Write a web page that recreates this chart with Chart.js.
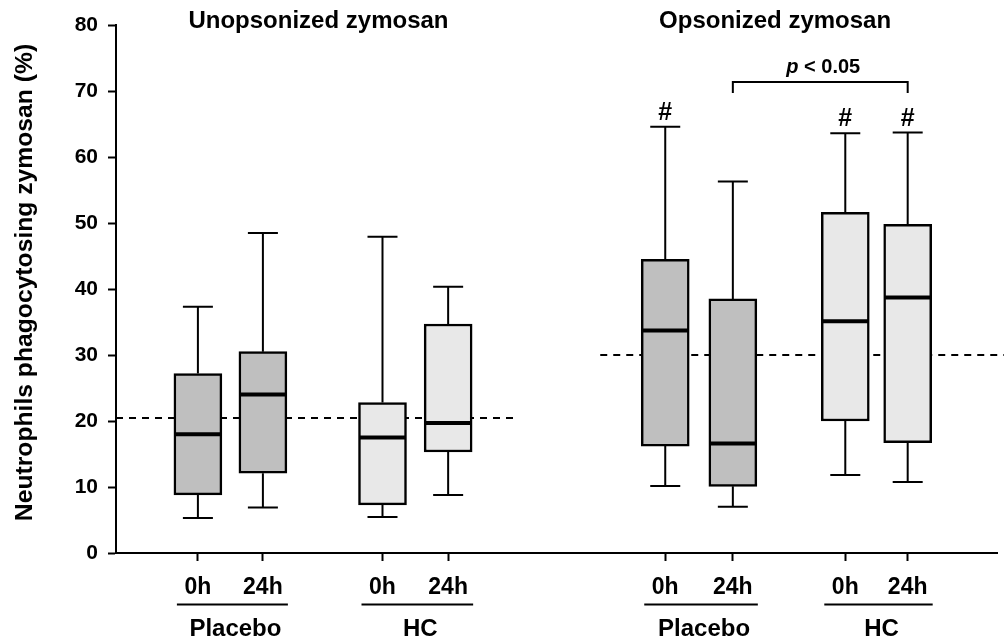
<!DOCTYPE html>
<html>
<head>
<meta charset="utf-8">
<title>Neutrophil phagocytosis of zymosan</title>
<script src="https://cdn.jsdelivr.net/npm/chart.js@4/dist/chart.umd.min.js"></script>
<style>
  html, body { margin: 0; padding: 0; background: #ffffff; }
  #wrap { width: 1004px; height: 641px; position: relative; }
</style>
</head>
<body>
<div id="wrap"><canvas id="chart" width="1004" height="641"></canvas></div>
<script>
// ---- data -------------------------------------------------------------
const panelTitles  = ['Unopsonized zymosan', 'Opsonized zymosan'];
const groupLabels  = ['Placebo', 'HC', 'Placebo', 'HC'];
const timeLabels   = ['0h', '24h', '0h', '24h', '0h', '24h', '0h', '24h'];
const whiskerLow   = [5.3, 6.9, 5.45, 8.8, 10.15, 7.0, 11.8, 10.75];
const quartile1    = [8.8, 12.1, 7.3, 15.3, 16.2, 10.1, 20.0, 16.7];
const medians      = [18.0, 24.0, 17.5, 19.7, 33.7, 16.6, 35.1, 38.7];
const quartile3    = [27.2, 30.5, 22.8, 34.7, 44.5, 38.5, 51.6, 49.8];
const whiskerHigh  = [37.3, 48.5, 47.9, 40.35, 64.6, 56.3, 63.6, 63.7];
const baselineLevels = [20.5, 30];               // dashed reference level per panel
const hashMarked   = [false, false, false, false, true, false, true, true];
const comparison   = { from: 5, to: 7, label: '< 0.05' };
const yTickValues  = [0, 10, 20, 30, 40, 50, 60, 70, 80];
const yAxisTitle   = 'Neutrophils phagocytosing zymosan (%)';

// ---- layout (x in box-pitch units) ------------------------------------
const X_MAX = 13.554;
const SLOT_X = [1.26, 2.26, 4.10, 5.11, 8.45, 9.49, 11.22, 12.18];
const PANEL_TITLE_X = [3.115, 10.14];
const REF_SPAN = [[0, 6.17], [7.45, 13.66]];
const BRACKET_Y = 71.3, BRACKET_DROP = 1.6;

const FONT = '"Liberation Sans", Arial, Helvetica, sans-serif';
const FILL_PLACEBO = '#bfbfbf';
const FILL_HC = '#e8e8e8';
const boxFills = SLOT_X.map((_, i) => (Math.floor(i / 2) % 2 === 0 ? FILL_PLACEBO : FILL_HC));

// whiskers, medians, reference lines and labels drawn on the library's scales
const boxDecorations = {
  id: 'boxDecorations',
  beforeDatasetsDraw(chart) {
    const { ctx, scales: { x, y } } = chart;
    ctx.save();
    ctx.setLineDash([7, 6]);
    ctx.lineWidth = 2;
    ctx.strokeStyle = '#000';
    baselineLevels.forEach((v, i) => {
      const py = Math.round(y.getPixelForValue(v));
      ctx.beginPath();
      ctx.moveTo(x.getPixelForValue(REF_SPAN[i][0]), py);
      ctx.lineTo(x.getPixelForValue(REF_SPAN[i][1]), py);
      ctx.stroke();
    });
    ctx.restore();
  },
  afterDatasetsDraw(chart) {
    const { ctx, scales: { x, y }, chartArea } = chart;
    const meta = chart.getDatasetMeta(0);
    ctx.save();
    ctx.strokeStyle = '#000';
    ctx.fillStyle = '#000';
    ctx.setLineDash([]);

    meta.data.forEach((bar, i) => {
      const { x: cx, width } = bar.getProps(['x', 'width'], true);
      const half = width / 2;
      const capHalf = 15;
      const yHi = y.getPixelForValue(whiskerHigh[i]);
      const yQ3 = y.getPixelForValue(quartile3[i]);
      const yQ1 = y.getPixelForValue(quartile1[i]);
      const yLo = y.getPixelForValue(whiskerLow[i]);
      const yMed = y.getPixelForValue(medians[i]);

      ctx.lineWidth = 2;
      ctx.beginPath();
      ctx.moveTo(cx, yQ3); ctx.lineTo(cx, yHi);
      ctx.moveTo(cx - capHalf, yHi); ctx.lineTo(cx + capHalf, yHi);
      ctx.moveTo(cx, yQ1); ctx.lineTo(cx, yLo);
      ctx.moveTo(cx - capHalf, yLo); ctx.lineTo(cx + capHalf, yLo);
      ctx.stroke();

      ctx.lineWidth = 4;
      ctx.beginPath();
      ctx.moveTo(cx - half + 1, yMed); ctx.lineTo(cx + half - 1, yMed);
      ctx.stroke();

      if (hashMarked[i]) {
        ctx.font = 'bold 25px ' + FONT;
        ctx.textAlign = 'center';
        ctx.textBaseline = 'alphabetic';
        ctx.fillText('#', cx, yHi - 7);
      }
    });

    // significance bracket
    const bx1 = x.getPixelForValue(SLOT_X[comparison.from]);
    const bx2 = x.getPixelForValue(SLOT_X[comparison.to]);
    const byTop = Math.round(y.getPixelForValue(BRACKET_Y));
    const byLeg = y.getPixelForValue(BRACKET_Y - BRACKET_DROP);
    ctx.lineWidth = 2;
    ctx.beginPath();
    ctx.moveTo(bx1, byLeg); ctx.lineTo(bx1, byTop); ctx.lineTo(bx2, byTop); ctx.lineTo(bx2, byLeg);
    ctx.stroke();
    const italicP = 'italic bold 20px ' + FONT;
    const boldRest = 'bold 20px ' + FONT;
    ctx.font = italicP;
    const wP = ctx.measureText('p').width;
    ctx.font = boldRest;
    const wRest = ctx.measureText(' ' + comparison.label).width;
    const startX = (bx1 + bx2) / 2 + 3 - (wP + wRest) / 2;
    ctx.textAlign = 'left';
    ctx.textBaseline = 'alphabetic';
    ctx.font = italicP;
    ctx.fillText('p', startX, byTop - 9.5);
    ctx.font = boldRest;
    ctx.fillText(' ' + comparison.label, startX + wP, byTop - 9.5);

    // panel titles
    ctx.font = 'bold 24px ' + FONT;
    ctx.textAlign = 'center';
    panelTitles.forEach((t, i) => {
      ctx.fillText(t, x.getPixelForValue(PANEL_TITLE_X[i]), chartArea.top + 2.7);
    });

    // group underlines and labels
    groupLabels.forEach((g, k) => {
      const a = x.getPixelForValue(SLOT_X[2 * k]) - 21;
      const b = x.getPixelForValue(SLOT_X[2 * k + 1]) + 25;
      const ly = 604.5;
      ctx.lineWidth = 2;
      ctx.beginPath();
      ctx.moveTo(a, ly); ctx.lineTo(b, ly);
      ctx.stroke();
      ctx.font = 'bold 24px ' + FONT;
      ctx.textAlign = 'center';
      ctx.fillText(g, (a + b) / 2 + 3, 636);
    });

    // y-axis title, centred a little above the plot middle
    ctx.save();
    ctx.translate(25, (chartArea.top + chartArea.bottom) / 2 - 6.5);
    ctx.rotate(-Math.PI / 2);
    ctx.font = 'bold 24.7px ' + FONT;
    ctx.textAlign = 'center';
    ctx.textBaseline = 'middle';
    ctx.fillText(yAxisTitle, 0, 0);
    ctx.restore();

    ctx.restore();
  }
};

new Chart(document.getElementById('chart'), {
  type: 'bar',
  data: {
    datasets: [{
      data: SLOT_X.map((sx, i) => ({ x: sx, y: [quartile1[i], quartile3[i]] })),
      backgroundColor: boxFills,
      borderColor: '#000',
      borderWidth: 2.5,
      borderSkipped: false,
      barThickness: 48
    }]
  },
  options: {
    responsive: false,
    animation: false,
    devicePixelRatio: 1,
    layout: { padding: { top: 25, right: 7, bottom: 0, left: 0 } },
    plugins: { legend: { display: false }, tooltip: { enabled: false } },
    scales: {
      x: {
        type: 'linear',
        min: 0,
        max: X_MAX,
        offset: false,
        grid: { display: true, offset: false, drawOnChartArea: false, drawTicks: true, tickLength: 8, tickWidth: 2, tickColor: '#000' },
        border: { display: true, color: '#000', width: 2 },
        afterBuildTicks: (scale) => { scale.ticks = SLOT_X.map(v => ({ value: v })); },
        afterFit: (scale) => { scale.height = 88; },
        ticks: {
          autoSkip: false,
          maxRotation: 0,
          color: '#000',
          padding: 13,
          font: { family: FONT, size: 23, weight: 'bold' },
          callback: (value, index) => timeLabels[index]
        }
      },
      y: {
        min: 0,
        max: 80,
        afterBuildTicks: (scale) => { scale.ticks = yTickValues.map(v => ({ value: v })); },
        afterFit: (scale) => { scale.width = 116; },
        grid: { display: true, drawOnChartArea: false, drawTicks: true, tickLength: 8, tickWidth: 2, tickColor: '#000' },
        border: { display: true, color: '#000', width: 2 },
        ticks: {
          color: '#000',
          padding: 10,
          font: { family: FONT, size: 21, weight: 'bold' }
        },
        title: { display: false }
      }
    }
  },
  plugins: [boxDecorations]
});
</script>
</body>
</html>
